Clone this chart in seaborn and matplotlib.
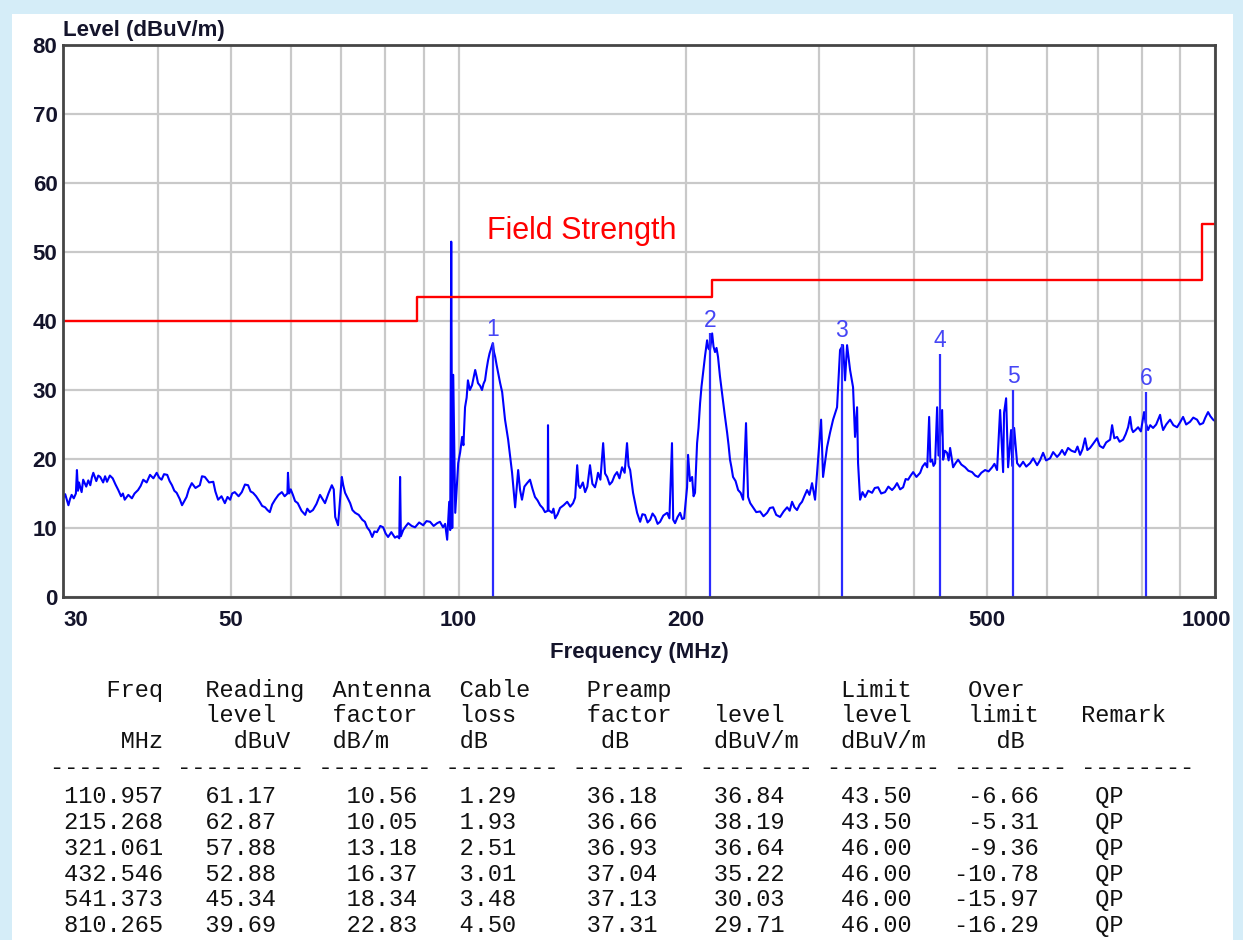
import matplotlib
matplotlib.use("Agg")
import matplotlib.pyplot as plt
import matplotlib.transforms as mtransforms
from matplotlib.patches import Rectangle
from matplotlib.ticker import NullLocator
import seaborn as sns

# ---------------- data ----------------
trace_freq = [
    30.0, 30.2, 30.5, 30.65, 30.8, 31.0, 31.2, 31.3, 31.4, 31.5, 31.6, 31.75, 31.9, 32.2,
    32.4, 32.6, 32.75, 32.9, 33.2, 33.4, 33.6, 33.9, 34.1, 34.3, 34.6, 34.9, 35.2, 35.5,
    35.8, 36.0, 36.2, 36.6, 37.0, 37.3, 37.7, 38.0, 38.3, 38.7, 39.1, 39.5, 39.9, 40.2,
    40.5, 40.8, 41.2, 41.5, 41.8, 42.1, 42.4, 42.8, 43.1, 43.4, 43.7, 44.0, 44.4, 44.9,
    45.5, 45.8, 46.2, 46.8, 47.4, 47.7, 48.1, 48.6, 49.1, 49.5, 49.9, 50.2, 50.6, 51.2,
    51.7, 52.2, 52.7, 53.1, 53.5, 54.0, 54.6, 55.0, 55.5, 55.9, 56.3, 56.7, 57.2, 57.8,
    58.4, 58.9, 59.4, 59.5, 59.7, 60.0, 60.4, 60.8, 61.3, 62.0, 62.7, 63.1, 63.6, 64.2,
    64.9, 65.6, 66.1, 66.6, 67.3, 68.0, 68.4, 68.7, 69.0, 69.3, 70.1, 70.4, 70.8, 71.3,
    71.9, 72.4, 73.0, 73.8, 74.6, 75.2, 75.7, 76.3, 76.9, 77.4, 78.0, 78.8, 79.5, 80.1,
    80.7, 81.5, 82.4, 83.0, 83.5, 83.7, 83.9, 84.5, 85.1, 85.8, 86.7, 87.6, 88.7, 89.8,
    90.7, 91.7, 92.7, 93.7, 94.5, 95.4, 96.0, 96.6, 97.2, 97.5, 97.8, 98.1, 98.4, 99.0,
    99.9, 100.5, 101.1, 101.5, 102.0, 102.5, 102.9, 103.5, 104.2, 104.7, 105.2, 105.7,
    106.1, 106.8, 107.4, 107.9, 108.4, 108.9, 109.4, 109.9, 110.4, 111.0, 111.4, 111.8,
    112.3, 112.8, 113.5, 114.2, 115.2, 116.3, 117.7, 118.8, 119.9, 120.6, 121.3, 122.2,
    123.2, 124.3, 125.3, 126.2, 127.2, 128.2, 129.2, 130.1, 131.2, 131.3, 131.5, 132.9,
    133.5, 134.2, 135.2, 136.2, 137.7, 139.2, 140.5, 141.7, 142.6, 143.5, 144.1, 144.8,
    146.0, 147.0, 148.0, 149.2, 150.3, 151.5, 152.2, 152.9, 154.0, 155.3, 156.2, 157.2,
    158.4, 159.6, 160.8, 162.0, 163.2, 164.5, 165.8, 167.0, 167.8, 168.6, 170.1, 172.2,
    173.8, 175.0, 176.4, 177.8, 179.2, 180.5, 181.9, 183.3, 184.7, 186.5, 188.7, 190.0,
    191.5, 192.2, 193.3, 194.8, 196.3, 197.5, 198.7, 200.5, 201.1, 202.3, 203.6, 204.5,
    205.4, 206.7, 207.6, 208.6, 209.5, 210.5, 211.8, 213.1, 214.0, 215.0, 216.4, 217.3,
    218.3, 219.3, 220.3, 221.6, 223.0, 224.8, 226.5, 227.5, 228.5, 229.5, 230.6, 232.4,
    234.2, 236.0, 237.8, 239.9, 241.4, 243.0, 245.1, 247.5, 250.4, 253.0, 255.8, 258.0,
    260.5, 263.0, 266.1, 269.0, 271.9, 274.0, 276.0, 278.0, 280.2, 282.5, 284.5, 286.5,
    288.9, 291.0, 293.3, 296.0, 298.7, 301.5, 303.3, 307.0, 309.8, 312.7, 316.5, 319.4,
    322.3, 324.3, 326.3, 329.3, 332.3, 334.3, 336.4, 337.4, 339.5, 342.0, 344.7, 348.0,
    352.1, 355.0, 358.6, 362.0, 366.3, 370.0, 374.2, 377.0, 379.9, 383.5, 387.0, 390.0,
    392.9, 396.0, 399.0, 403.0, 407.6, 410.5, 413.8, 416.5, 418.9, 420.5, 422.7, 424.5,
    426.6, 429.2, 431.0, 435.8, 437.1, 439.5, 442.4, 444.5, 446.5, 448.5, 450.6, 454.0,
    457.5, 462.0, 467.4, 472.0, 477.4, 482.0, 486.2, 491.0, 496.7, 502.0, 507.4, 511.0,
    515.1, 519.9, 524.7, 526.2, 529.5, 532.7, 537.6, 539.5, 542.6, 547.5, 552.0, 557.6,
    563.0, 569.6, 575.0, 581.9, 587.0, 592.6, 598.0, 605.3, 611.0, 618.3, 623.0, 627.8,
    633.0, 639.4, 646.0, 653.2, 658.0, 663.2, 668.0, 673.3, 678.0, 683.6, 690.0, 698.3,
    704.0, 711.4, 718.0, 726.7, 731.1, 736.0, 742.3, 748.0, 756.0, 762.0, 767.6, 772.3,
    776.0, 779.3, 785.0, 791.3, 798.0, 805.8, 809.5, 815.7, 821.0, 828.2, 836.0, 846.1,
    850.0, 853.9, 862.0, 872.2, 881.0, 891.0, 899.0, 907.4, 916.0, 926.9, 936.0, 946.8,
    955.0, 964.4, 971.0, 979.1, 986.0, 994.2, 1000.0,
]
trace_level = [
    14.3, 14.9, 13.3, 14.2, 14.8, 14.3, 15.0, 18.4, 15.4, 16.6, 16.0, 15.2, 17.0, 16.0,
    16.9, 16.2, 17.3, 18.0, 16.8, 17.6, 17.4, 16.6, 17.5, 16.7, 17.6, 17.2, 16.3, 15.5,
    14.6, 15.0, 14.1, 14.8, 14.3, 15.0, 15.5, 16.1, 17.0, 16.6, 17.7, 17.2, 18.0, 17.3,
    17.0, 17.8, 17.7, 16.8, 16.2, 15.4, 15.1, 14.2, 13.3, 13.9, 14.5, 15.6, 16.5, 15.8,
    16.2, 17.5, 17.4, 16.6, 16.7, 15.3, 14.1, 14.6, 13.6, 14.5, 14.1, 15.0, 15.2, 14.6,
    15.2, 16.3, 16.2, 15.3, 15.1, 14.6, 13.8, 13.2, 13.0, 12.6, 12.3, 13.4, 14.1, 14.8,
    15.2, 14.6, 15.0, 18.0, 15.0, 15.6, 14.8, 13.9, 13.6, 12.5, 11.9, 12.8, 12.3, 12.6,
    13.5, 14.8, 14.2, 13.6, 15.0, 16.2, 15.6, 11.6, 11.0, 10.4, 17.4, 16.2, 15.1, 14.4,
    13.6, 12.6, 12.2, 11.9, 11.2, 10.9, 10.1, 9.6, 8.7, 9.5, 9.4, 10.3, 10.1, 9.2,
    8.7, 9.4, 8.6, 8.8, 8.5, 17.4, 8.8, 9.7, 10.2, 10.7, 10.3, 10.1, 10.8, 10.4,
    11.0, 10.9, 10.3, 10.7, 10.9, 10.1, 10.6, 8.3, 13.8, 9.7, 51.5, 10.0, 32.2, 12.2,
    19.4, 21.0, 23.2, 22.0, 27.5, 28.9, 31.4, 30.0, 30.7, 31.8, 32.9, 31.9,
    31.0, 30.6, 30.0, 30.9, 31.4, 33.0, 34.3, 35.3, 36.0, 36.8, 35.5, 34.8,
    33.6, 32.5, 31.0, 29.7, 25.7, 22.8, 18.0, 13.0, 18.4, 15.5, 14.1, 16.0,
    16.5, 17.0, 15.6, 14.5, 14.0, 13.3, 12.9, 12.3, 12.5, 24.9, 12.6, 12.2,
    12.8, 11.4, 12.0, 12.9, 13.3, 13.8, 13.1, 13.6, 14.4, 19.1, 16.2, 15.8,
    16.6, 15.2, 16.0, 19.1, 16.4, 15.9, 16.8, 18.0, 17.0, 22.3, 17.9, 17.4,
    16.3, 16.7, 17.6, 18.1, 17.2, 18.8, 18.0, 22.3, 19.0, 18.4, 15.1, 12.2,
    10.9, 12.0, 11.9, 10.8, 11.2, 12.1, 11.6, 10.6, 10.9, 11.8, 12.2, 11.4,
    22.3, 11.2, 10.7, 11.6, 12.2, 11.3, 11.4, 15.9, 20.6, 16.8, 17.4, 14.6,
    15.1, 22.3, 24.5, 28.1, 30.5, 32.5, 35.0, 37.2, 36.0, 35.8, 38.2, 36.3,
    35.5, 36.1, 34.8, 32.0, 29.6, 26.5, 23.8, 22.0, 19.9, 18.8, 17.4, 16.8,
    15.5, 15.1, 14.1, 25.2, 14.5, 13.6, 13.0, 12.3, 12.4, 11.7, 12.2, 12.9,
    13.0, 11.9, 11.6, 12.4, 13.0, 12.5, 13.8, 13.0, 12.6, 13.4, 13.8, 14.6,
    15.5, 14.8, 16.5, 14.1, 19.9, 25.7, 17.4, 21.7, 23.8, 25.7, 27.5, 35.8,
    36.5, 31.4, 36.5, 32.9, 30.4, 23.2, 27.5, 19.4, 14.1, 15.2, 14.5, 15.4,
    15.1, 15.8, 15.9, 15.0, 15.2, 16.0, 15.5, 15.9, 16.5, 15.6, 15.9, 17.1,
    17.0, 17.6, 18.1, 17.4, 18.0, 18.9, 19.4, 18.8, 26.1, 19.6, 19.9, 19.0,
    19.4, 27.5, 20.5, 27.1, 19.9, 21.2, 20.9, 19.8, 21.6, 20.2, 18.8, 19.4,
    19.9, 19.2, 18.8, 18.3, 18.1, 17.6, 17.4, 18.0, 18.4, 18.2, 18.8, 19.3,
    18.4, 27.1, 18.1, 26.7, 28.8, 18.8, 24.2, 19.0, 24.5, 19.4, 18.9, 19.6,
    18.9, 19.4, 20.1, 19.1, 19.8, 20.9, 19.8, 20.1, 21.0, 20.3, 20.7, 21.3,
    20.6, 21.6, 21.2, 21.0, 21.8, 20.6, 21.4, 23.0, 21.3, 21.6, 22.2, 23.0,
    21.9, 21.6, 22.4, 22.8, 24.9, 23.0, 23.2, 22.5, 22.8, 23.6, 24.6, 26.1,
    24.4, 23.9, 24.2, 24.6, 24.0, 26.8, 25.3, 24.2, 24.9, 24.5, 25.0, 26.4,
    25.1, 24.2, 25.0, 25.7, 24.9, 24.6, 25.3, 26.1, 25.0, 25.4, 26.0, 25.7,
    25.0, 25.2, 26.0, 26.8, 26.2, 25.7, 25.5,
]

limit_freq = [30, 88, 216, 960, 1000]
limit_level = [40.0, 43.5, 46.0, 54.0, 54.0]

mk_labels = ["1", "2", "3", "4", "5", "6"]
mk_freq = [110.957, 215.268, 321.061, 432.546, 541.373, 810.265]
mk_reading = [61.17, 62.87, 57.88, 52.88, 45.34, 39.69]
mk_antenna = [10.56, 10.05, 13.18, 16.37, 18.34, 22.83]
mk_cable = [1.29, 1.93, 2.51, 3.01, 3.48, 4.50]
mk_preamp = [36.18, 36.66, 36.93, 37.04, 37.13, 37.31]
mk_level = [36.84, 38.19, 36.64, 35.22, 30.03, 29.71]
mk_limit = [43.50, 43.50, 46.00, 46.00, 46.00, 46.00]
mk_over = [-6.66, -5.31, -9.36, -10.78, -15.97, -16.29]
mk_remark = ["QP", "QP", "QP", "QP", "QP", "QP"]

x_ticks = [30, 40, 50, 60, 70, 80, 90, 100, 200, 300, 400, 500, 600, 700, 800, 900, 1000]
x_ticklabels = ["30", "", "50", "", "", "", "", "100", "200", "", "", "500", "", "", "", "", "1000"]
y_ticks = [0, 10, 20, 30, 40, 50, 60, 70, 80]

# ---------------- figure ----------------
W, H = 1243, 940
fig = plt.figure(figsize=(W / 100, H / 100), dpi=100)
fig.patch.set_facecolor("#d5edf8")
fig.add_artist(Rectangle((12 / W, 0), (1233 - 12) / W, (H - 14) / H,
                         transform=fig.transFigure, facecolor="white",
                         edgecolor="none", zorder=-10))

ax = fig.add_axes([63 / W, 1 - 597 / H, (1215 - 63) / W, (597 - 45) / H])
ax.set_facecolor("white")

LBL = dict(family="Liberation Sans", fontweight="bold", color="#14142b")

sns.lineplot(x=trace_freq, y=trace_level, ax=ax, color="#0000ff", lw=1.5,
             estimator=None, sort=False, zorder=3)
sns.lineplot(x=limit_freq, y=limit_level, ax=ax, color="#ff0000", lw=1.7,
             drawstyle="steps-post", estimator=None, sort=False, zorder=4)
ax.vlines(mk_freq, 0, mk_level, color="#2b2bff", lw=1.6, zorder=5)
for f, lv, lab in zip(mk_freq, mk_level, mk_labels):
    ax.text(f, lv + 1.0, lab, ha="center", va="baseline", fontsize=16.5,
            family="Liberation Sans", color="#4646f5", zorder=6)

ax.text(109, 53.0, "Field Strength", color="#ff0000", fontsize=22,
        family="Liberation Sans", ha="left", va="center", zorder=6)

ax.set_xscale("log")
ax.set_xlim(30, 1000)
ax.set_ylim(0, 80)
ax.set_xticks(x_ticks)
ax.set_xticklabels(x_ticklabels)
ax.xaxis.set_minor_locator(NullLocator())
ax.set_yticks(y_ticks)
ax.set_yticklabels([str(v) for v in y_ticks])
ax.grid(True, color="#c9c9c9", lw=1.6, zorder=0)
ax.set_axisbelow(True)
ax.tick_params(length=0, labelsize=16, pad=4)
ax.tick_params(axis="x", pad=9)
for t in ax.get_xticklabels() + ax.get_yticklabels():
    t.set_fontfamily("Liberation Sans")
    t.set_fontweight("bold")
    t.set_color("#14142b")
xl = ax.get_xticklabels()
xl[0].set_ha("left")
xl[-1].set_transform(xl[-1].get_transform() +
                     mtransforms.ScaledTranslation(-9 / 100, 0, fig.dpi_scale_trans))

for sp in ax.spines.values():
    sp.set_color("#454545")
    sp.set_linewidth(2.0)
    sp.set_zorder(7)

ax.set_xlabel("Frequency (MHz)", fontsize=16, labelpad=8, **LBL)
ax.set_ylabel("")
ax.annotate("Level (dBuV/m)", xy=(0, 1), xycoords="axes fraction",
            xytext=(0, 3), textcoords="offset points", ha="left", va="bottom",
            fontsize=16, **LBL)

# ---------------- table ----------------
NCH = 81


def place(buf, end_col, s):
    start = end_col - len(s) + 1
    for i, ch in enumerate(s):
        buf[start + i] = ch


def put_left(buf, start, s):
    for i, ch in enumerate(s):
        buf[start + i] = ch


def line_from(items_left):
    buf = [" "] * NCH
    for start, s in items_left:
        put_left(buf, start, s)
    return "".join(buf).rstrip()


header1 = line_from([(4, "Freq"), (11, "Reading"), (20, "Antenna"), (29, "Cable"),
                     (38, "Preamp"), (56, "Limit"), (65, "Over")])
header2 = line_from([(11, "level"), (20, "factor"), (29, "loss"), (38, "factor"),
                     (47, "level"), (56, "level"), (65, "limit"), (73, "Remark")])
header3 = line_from([(5, "MHz"), (13, "dBuV"), (20, "dB/m"), (29, "dB"), (39, "dB"),
                     (47, "dBuV/m"), (56, "dBuV/m"), (67, "dB")])
dashes = " ".join(["-" * 8, "-" * 9] + ["-" * 8] * 7)

rows = []
for i in range(len(mk_freq)):
    buf = [" "] * NCH
    place(buf, 7, f"{mk_freq[i]:.3f}")
    place(buf, 15, f"{mk_reading[i]:.2f}")
    place(buf, 25, f"{mk_antenna[i]:.2f}")
    place(buf, 32, f"{mk_cable[i]:.2f}")
    place(buf, 42, f"{mk_preamp[i]:.2f}")
    place(buf, 51, f"{mk_level[i]:.2f}")
    place(buf, 60, f"{mk_limit[i]:.2f}")
    place(buf, 69, f"{mk_over[i]:.2f}")
    put_left(buf, 74, mk_remark[i])
    rows.append("".join(buf).rstrip())

TBL = dict(family="Liberation Mono", fontsize=17, color="#111111",
           ha="left", va="center")
x0 = 50 / W
for y, s in [(690, header1), (716, header2), (742, header3), (767, dashes)]:
    fig.text(x0, 1 - y / H, s, **TBL)
for i, s in enumerate(rows):
    fig.text(x0, 1 - (797 + 25.7 * i) / H, s, **TBL)

fig.savefig("out.png", dpi=100, facecolor=fig.get_facecolor())
